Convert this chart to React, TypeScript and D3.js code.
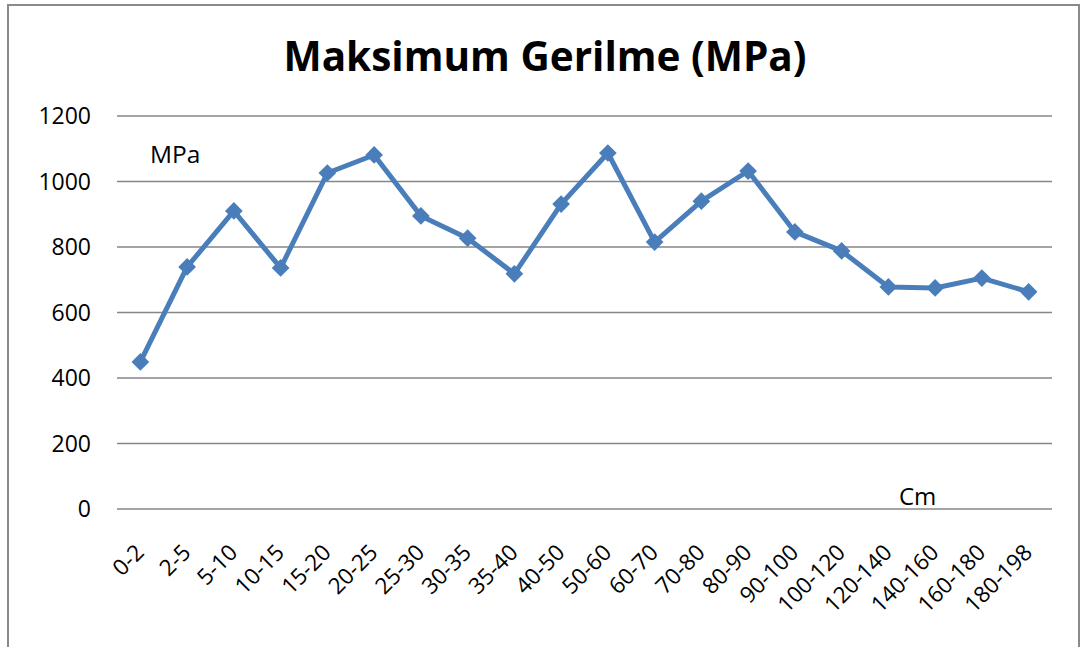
import React from "react";
import * as d3 from "d3";

const categories = ["0-2","2-5","5-10","10-15","15-20","20-25","25-30","30-35","35-40","40-50","50-60","60-70","70-80","80-90","90-100","100-120","120-140","140-160","160-180","180-198"];
const values = [449,739,910,736,1026,1081,895,827,718,931,1087,815,940,1032,846,788,678,675,705,663];
const yTicks = [0,200,400,600,800,1000,1200];
const title = "Maksimum Gerilme (MPa)";
const yUnit = "MPa";
const xUnit = "Cm";

const W = 1080, H = 647;
const M = { left: 117, right: 1052, top: 116, bottom: 509 };
const FONT = "'Open Sans', Lato, sans-serif";

export default function App() {
  const x = d3.scaleBand<string>().domain(categories).range([M.left, M.right]);
  const y = d3.scaleLinear().domain([0, 1200]).range([M.bottom, M.top]);
  const cx = (c: string) => (x(c) ?? 0) + x.bandwidth() / 2;
  const line = d3.line<number>().x((_, i) => cx(categories[i])).y((d) => y(d));
  const diamond = d3.symbol().type(d3.symbolDiamond2).size(200)();
  return (
    <svg width={W} height={H} style={{ position: "absolute", left: 0, top: 0 }} fontFamily={FONT}>
      <rect x={0} y={0} width={W} height={H} fill="#fff" />
      <path d={`M8,${H} L8,5 L1079,5 L1079,${H}`} fill="none" stroke="#8a8a8a" strokeWidth={2} />
      <text x={545} y={71} textAnchor="middle" fontSize={40.5} fontWeight="bold" fill="#000">{title}</text>
      {yTicks.map((t) => (
        <g key={t}>
          <line x1={M.left} x2={M.right} y1={y(t)} y2={y(t)} stroke="#868686" strokeWidth={1.6} />
          <text x={91} y={y(t) + 8} textAnchor="end" fontSize={23} fill="#000">{t}</text>
        </g>
      ))}
      {categories.map((c) => (
        <text key={c} transform={`translate(${cx(c) - 1},${548}) rotate(-45)`} textAnchor="end" dominantBaseline="central" fontSize={22.5} fill="#000">{c}</text>
      ))}
      <text x={150} y={163} fontSize={24.5} fill="#000">{yUnit}</text>
      <text x={899} y={505} fontSize={24} fill="#000">{xUnit}</text>
      <path d={line(values) ?? ""} fill="none" stroke="#4a7ebb" strokeWidth={5} strokeLinejoin="round" />
      {values.map((v, i) => (
        <path key={i} d={diamond ?? ""} transform={`translate(${cx(categories[i])},${y(v)})`} fill="#4a7ebb" />
      ))}
    </svg>
  );
}
